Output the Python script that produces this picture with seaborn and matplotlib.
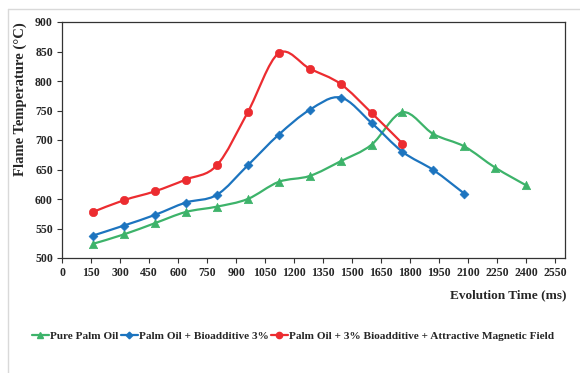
import numpy as np
import pandas as pd
import matplotlib
matplotlib.use("Agg")
import matplotlib.pyplot as plt
import seaborn as sns
from matplotlib.path import Path
from matplotlib.patches import PathPatch
from matplotlib.lines import Line2D

# ---- data ----
time_pure = [160, 320, 480, 640, 800, 960, 1120, 1280, 1440, 1600, 1760, 1920, 2080, 2240, 2400]
temp_pure = [524, 540, 559, 578, 587, 600, 629, 639, 664, 692, 747, 710, 689, 653, 623]

time_bio = [160, 320, 480, 640, 800, 960, 1120, 1280, 1440, 1600, 1760, 1920, 2080]
temp_bio = [538, 555, 573, 594, 607, 657, 709, 751, 772, 729, 680, 649, 609]

time_mag = [160, 320, 480, 640, 800, 960, 1120, 1280, 1440, 1600, 1760]
temp_mag = [578, 598, 613, 633, 657, 747, 847, 821, 795, 746, 694]

series_names = ["Pure Palm Oil", "Palm Oil + Bioadditive 3%",
                "Palm Oil + 3% Bioadditive + Attractive Magnetic Field"]
colors = ["#3DB36A", "#1C74BF", "#EC2C30"]
markers = ["^", "D", "o"]
msizes = [6, 4.5, 6]

x_ticks = list(range(0, 2551, 150))
y_ticks = list(range(500, 901, 50))

df = pd.concat([
    pd.DataFrame({"t": time_pure, "T": temp_pure, "s": series_names[0]}),
    pd.DataFrame({"t": time_bio, "T": temp_bio, "s": series_names[1]}),
    pd.DataFrame({"t": time_mag, "T": temp_mag, "s": series_names[2]}),
])

sns.set_theme(style="white")
plt.rcParams["font.family"] = ["Liberation Serif", "DejaVu Serif"]
plt.rcParams["font.weight"] = "bold"

fig = plt.figure(figsize=(5.8, 3.73), dpi=100)
W, H = 580, 373
ax = fig.add_axes([62 / W, 1 - 258 / H, (565 - 62) / W, (258 - 22) / H])

# chart-area border (light gray), top and left edges only visible
fig.add_artist(Line2D([8 / W, 1.0], [1 - 9 / H, 1 - 9 / H], transform=fig.transFigure,
                      color="#D9D9D9", linewidth=1.0, zorder=0))
fig.add_artist(Line2D([8 / W, 8 / W], [0.0, 1 - 9 / H], transform=fig.transFigure,
                      color="#D9D9D9", linewidth=1.0, zorder=0))


def smooth_path(xs, ys):
    # Excel-style smoothed line: cubic Bezier segments through the data points
    xs = np.asarray(xs, float)
    ys = np.asarray(ys, float)
    pts = np.column_stack([xs, ys])
    n = len(pts)
    verts = [pts[0]]
    codes = [Path.MOVETO]
    for i in range(n - 1):
        p0 = pts[i - 1] if i > 0 else pts[i]
        p1 = pts[i]
        p2 = pts[i + 1]
        p3 = pts[i + 2] if i + 2 < n else pts[i + 1]
        c1 = p1 + (p2 - p0) / 6.0
        c2 = p2 - (p3 - p1) / 6.0
        verts += [c1, c2, p2]
        codes += [Path.CURVE4] * 3
    return Path(verts, codes)


for name, c, m, ms in zip(series_names, colors, markers, msizes):
    sub = df[df["s"] == name]
    ax.add_patch(PathPatch(smooth_path(sub["t"], sub["T"]), facecolor="none",
                           edgecolor=c, linewidth=1.6, zorder=2))
    sns.scatterplot(data=sub, x="t", y="T", ax=ax, color=c, marker=m,
                    s=ms ** 2, edgecolor=c, linewidth=0.5, zorder=3, legend=False)

ax.set_xlim(0, 2600)
ax.set_ylim(500, 900)
ax.set_xticks(x_ticks)
ax.set_yticks(y_ticks)
ax.set_xticklabels([str(v) for v in x_ticks], fontsize=8.5, fontweight="bold")
ax.set_yticklabels([str(v) for v in y_ticks], fontsize=8.5, fontweight="bold")
ax.tick_params(axis="both", direction="out", length=3.5, width=0.8, color="#333333",
               pad=3, bottom=True, left=True)
for sp in ax.spines.values():
    sp.set_color("#333333")
    sp.set_linewidth(0.9)
ax.set_xlabel("")
ax.set_ylabel("")

fig.text(566 / W, 1 - 295 / H, "Evolution Time (ms)", ha="right", va="center",
         fontsize=9.5, fontweight="bold")
fig.text(20 / W, 1 - 99 / H, "Flame Temperature (°C)", ha="center", va="center",
         rotation=90, fontsize=10.5, fontweight="bold")

handles = [Line2D([0], [0], color=c, marker=m, markersize=ms * 0.75, linewidth=1.6)
           for c, m, ms in zip(colors, markers, msizes)]
fig.legend(handles, series_names, loc="center", bbox_to_anchor=(293 / W, 1 - 336 / H),
           ncol=3, frameon=False, handlelength=1.5, handletextpad=0.12,
           columnspacing=0.2, prop={"weight": "bold", "size": 8.1})

fig.savefig("out.png", dpi=100, facecolor="white")
